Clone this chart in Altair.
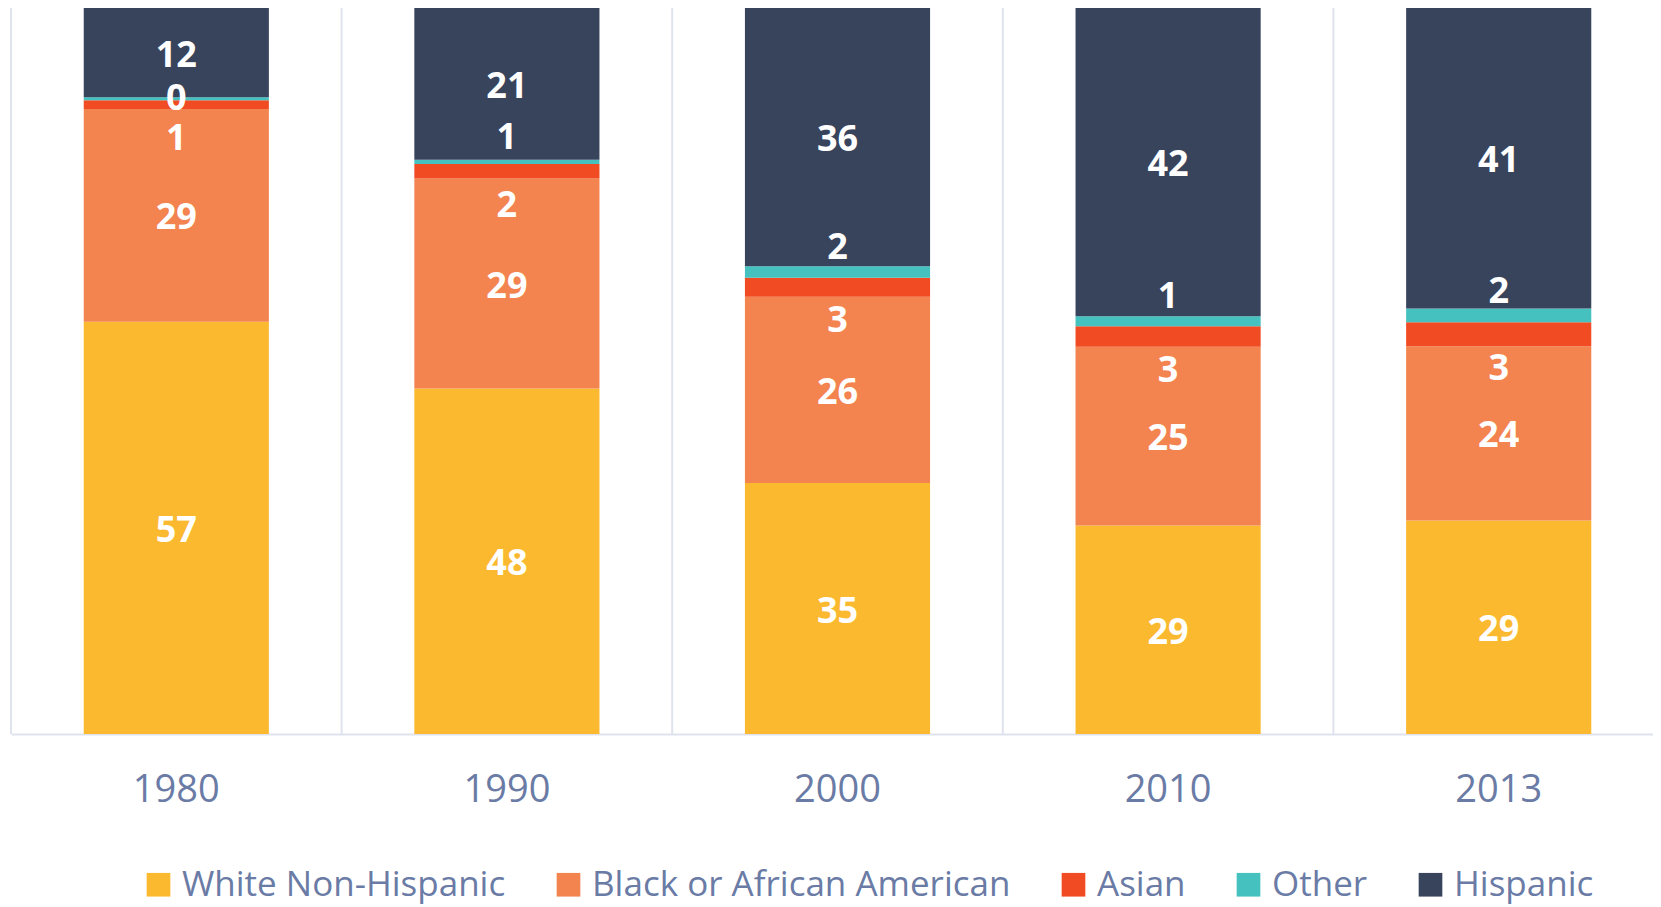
import altair as alt
import pandas as pd

years = ["1980", "1990", "2000", "2010", "2013"]
categories = ["White Non-Hispanic", "Black or African American", "Asian", "Other", "Hispanic"]
colors = ["#FBB92F", "#F3834F", "#F04B23", "#45C1C0", "#38435C"]

white = [56.8, 47.6, 34.6, 28.7, 29.4]
black = [29.3, 28.9, 25.7, 24.6, 24.0]
asian = [1.2, 2.0, 2.6, 2.8, 3.3]
other = [0.4, 0.6, 1.6, 1.4, 1.9]
hispanic = [12.3, 20.9, 35.6, 42.4, 41.4]

series = [white, black, asian, other, hispanic]
rows = []
for ci, (cat, vals) in enumerate(zip(categories, series)):
    for y, v in zip(years, vals):
        rows.append({"year": y, "race": cat, "value": v, "order": ci})
df = pd.DataFrame(rows)

FONT = "Open Sans"
TXT = "#6a7ba5"
GRID = "#dfe3ee"

PLOT_W = 1642      # visible plot width inside the page
RANGE_W = 1653     # band range (plot runs past the right edge, as in the reference)
PLOT_H = 726
STEP = RANGE_W / len(years)

base = alt.Chart(df).transform_joinaggregate(
    total="sum(value)", groupby=["year"]
).transform_calculate(
    share="datum.value / datum.total"
).transform_window(
    top="sum(share)", sort=[alt.SortField("order", order="ascending")],
    groupby=["year"], frame=[None, 0]
).transform_calculate(
    bottom="datum.top - datum.share",
    mid="datum.top - datum.share / 2",
).transform_calculate(
    hmid="datum.race == 'Hispanic' ? datum.mid : 0"
).transform_joinaggregate(
    hisp_mid="max(hmid)", groupby=["year"]
).transform_calculate(
    label_y="datum.race == 'Asian' ? datum.mid - 0.043 : (datum.race == 'Other' ? min(datum.mid + 0.037, datum.hisp_mid - 0.06) : datum.mid)",
    g0="0",
    g1="1",
)

xscale = alt.Scale(paddingInner=0.44, paddingOuter=0.22, range=[0, RANGE_W])
yscale = alt.Scale(domain=[0, 1], nice=False, zero=True)

xenc = alt.X(
    "year:N", sort=years, title=None, scale=xscale,
    axis=alt.Axis(
        labelAngle=0, labelFont=FONT, labelFontSize=38, labelColor=TXT,
        labelPadding=37, ticks=False, domainColor=GRID, domainWidth=2,
        grid=False,
    ),
)

grid = base.transform_filter(
    alt.datum.order == 0
).mark_rule(
    color=GRID, strokeWidth=2, xOffset=-STEP / 2
).encode(
    x=xenc,
    y=alt.Y("g0:Q", scale=yscale, axis=None),
    y2="g1:Q",
)

bars = base.mark_bar().encode(
    x=xenc,
    y=alt.Y("bottom:Q", scale=yscale, axis=None),
    y2="top:Q",
    color=alt.Color(
        "race:N",
        scale=alt.Scale(domain=categories, range=colors),
        sort=categories,
        legend=alt.Legend(
            title=None, orient="none", direction="horizontal",
            legendX=130, legendY=859, symbolType="square", symbolSize=560,
            symbolStrokeWidth=0, symbolOpacity=1,
            labelFont=FONT, labelFontSize=35, labelColor=TXT, labelOffset=6,
            columnPadding=45, padding=0, labelLimit=600,
        ),
    ),
)

labels = base.mark_text(
    color="white", font=FONT, fontSize=36, fontWeight="bold",
    baseline="middle", align="center", dy=3,
).encode(
    x=xenc,
    y=alt.Y("label_y:Q", scale=yscale, axis=None),
    text=alt.Text("value:Q", format=".0f"),
)

chart = alt.layer(grid, bars, labels).properties(
    width=PLOT_W, height=PLOT_H,
    padding={"left": 3, "top": 0, "right": 0, "bottom": 173},
    autosize=alt.AutoSizeParams(type="none"),
    background="white",
).configure_view(stroke=None)

chart.save("out.html", embed_options={"renderer": "svg", "actions": False})
